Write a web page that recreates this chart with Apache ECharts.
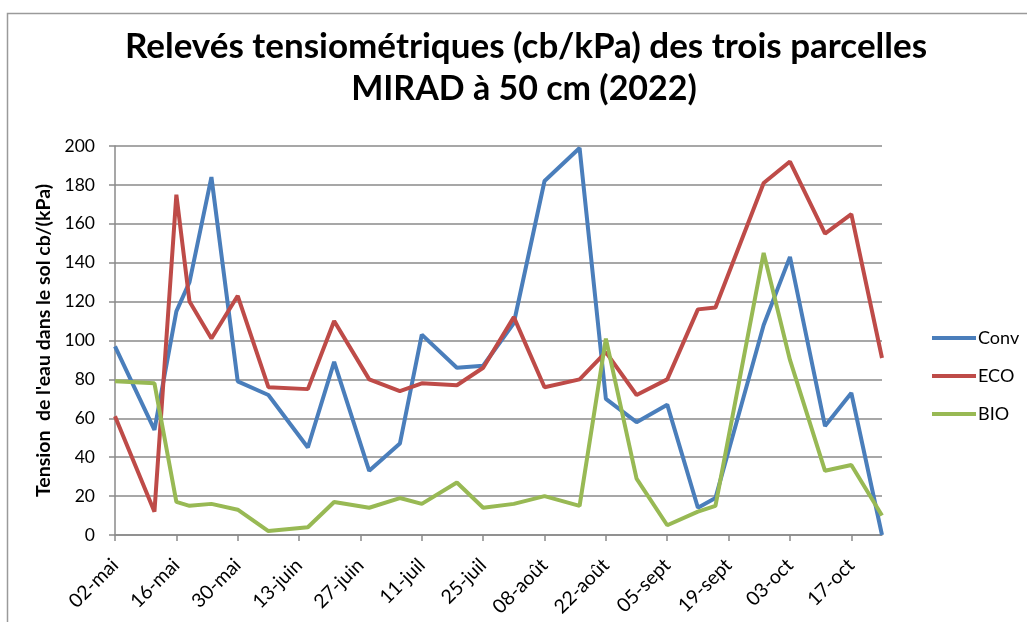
<!DOCTYPE html>
<html>
<head>
<meta charset="utf-8">
<script src="https://cdn.jsdelivr.net/npm/echarts@6/dist/echarts.min.js"></script>
<style>
  html, body { margin: 0; padding: 0; background: #fff; }
  #chart { width: 1027px; height: 622px; }
</style>
</head>
<body>
<div id="chart"></div>
<script>
// dates des relevés
var dates = ['2022-05-02', '2022-05-11', '2022-05-16', '2022-05-19', '2022-05-24', '2022-05-30',
  '2022-06-06', '2022-06-15', '2022-06-21', '2022-06-29', '2022-07-06', '2022-07-11',
  '2022-07-19', '2022-07-25', '2022-08-01', '2022-08-08', '2022-08-16', '2022-08-22',
  '2022-08-29', '2022-09-05', '2022-09-12', '2022-09-16', '2022-09-27', '2022-10-03',
  '2022-10-11', '2022-10-17', '2022-10-24'];
var conv = [97, 54, 115, 130, 184, 79, 72, 45, 89, 33, 47, 103, 86, 87, 109, 182, 199, 70, 58, 67, 14, 19, 108, 143, 56, 73, 0];
var eco = [61, 12, 175, 120, 101, 123, 76, 75, 110, 80, 74, 78, 77, 86, 112, 76, 80, 94, 72, 80, 116, 117, 181, 192, 155, 165, 91];
var bio = [79, 78, 17, 15, 16, 13, 2, 4, 17, 14, 19, 16, 27, 14, 16, 20, 15, 101, 29, 5, 12, 15, 145, 90, 33, 36, 10];
// graduations de l'axe des dates (toutes les 2 semaines)
var tickDates = ['2022-05-02', '2022-05-16', '2022-05-30', '2022-06-13', '2022-06-27', '2022-07-11',
  '2022-07-25', '2022-08-08', '2022-08-22', '2022-09-05', '2022-09-19', '2022-10-03', '2022-10-17'];
var xStart = '2022-05-02';
var xEnd = '2022-10-24';
var moisFr = ['janv', 'févr', 'mars', 'avr', 'mai', 'juin', 'juil', 'août', 'sept', 'oct', 'nov', 'déc'];
var titre = ['Relevés tensiométriques (cb/kPa) des trois parcelles', 'MIRAD à 50 cm (2022)'];

function ts(d) {
  var p = d.split('-');
  return Date.UTC(+p[0], +p[1] - 1, +p[2]);
}
function pairs(vals) {
  return dates.map(function (d, i) { return [ts(d), vals[i]]; });
}

var font = 'Lato';
var gris = '#8a8a8a';
var myChart = echarts.init(document.getElementById('chart'));

myChart.setOption({
  backgroundColor: '#fff',
  textStyle: { fontFamily: font },
  animation: false,
  graphic: [{
    // cadre du graphique
    type: 'rect',
    shape: { x: 7.5, y: 13.5, width: 1100, height: 700 },
    style: { fill: 'none', stroke: '#9a9a9a', lineWidth: 1.5 },
    silent: true
  }, {
    // titre sur deux lignes, centré sur la zone de tracé
    type: 'text',
    x: 526, y: 47,
    style: { text: titre[0], font: 'bold 35px Lato', fill: '#000', align: 'center', verticalAlign: 'middle' }
  }, {
    type: 'text',
    x: 524, y: 89,
    style: { text: titre[1], font: 'bold 34px Lato', fill: '#000', align: 'center', verticalAlign: 'middle' }
  }],
  legend: {
    orient: 'vertical',
    left: 927,
    top: 324,
    icon: 'rect',
    itemWidth: 44,
    itemHeight: 4,
    itemGap: 20,
    textStyle: { fontFamily: font, fontSize: 18, color: '#000', padding: [0, 0, 0, -3] },
    data: ['Conv', 'ECO', 'BIO']
  },
  grid: { left: 115, right: 145, top: 146, bottom: 87 },
  xAxis: {
    type: 'value',
    min: ts(xStart),
    max: ts(xEnd),
    splitLine: { show: false },
    axisLine: { lineStyle: { color: gris, width: 1.5 } },
    axisTick: { show: true, length: 6, lineStyle: { color: gris, width: 1.5 }, customValues: tickDates.map(ts) },
    axisLabel: {
      customValues: tickDates.map(ts),
      rotate: 45,
      margin: 27,
      fontSize: 19.5,
      color: '#000',
      formatter: function (v) {
        var d = new Date(v);
        var j = d.getUTCDate();
        return (j < 10 ? '0' + j : j) + '-' + moisFr[d.getUTCMonth()];
      }
    }
  },
  yAxis: {
    type: 'value',
    min: 0,
    max: 200,
    interval: 20,
    name: "Tension  de l'eau dans le sol cb/(kPa)",
    nameLocation: 'middle',
    nameGap: 58,
    nameTextStyle: { fontFamily: font, fontSize: 19.5, fontWeight: 'bold', color: '#000' },
    axisLine: { show: true, lineStyle: { color: gris, width: 1.5 } },
    axisTick: { show: true, length: 6, lineStyle: { color: gris, width: 1.5 } },
    axisLabel: { fontSize: 17.5, color: '#000', margin: 20 },
    splitLine: { lineStyle: { color: gris, width: 1.5 } }
  },
  series: [
    { name: 'Conv', type: 'line', data: pairs(conv), symbol: 'none', lineStyle: { width: 4, color: '#4a7ebb' }, itemStyle: { color: '#4a7ebb' } },
    { name: 'ECO', type: 'line', data: pairs(eco), symbol: 'none', lineStyle: { width: 4, color: '#be4b48' }, itemStyle: { color: '#be4b48' } },
    { name: 'BIO', type: 'line', data: pairs(bio), symbol: 'none', lineStyle: { width: 4, color: '#98b954' }, itemStyle: { color: '#98b954' } }
  ]
});
</script>
</body>
</html>
